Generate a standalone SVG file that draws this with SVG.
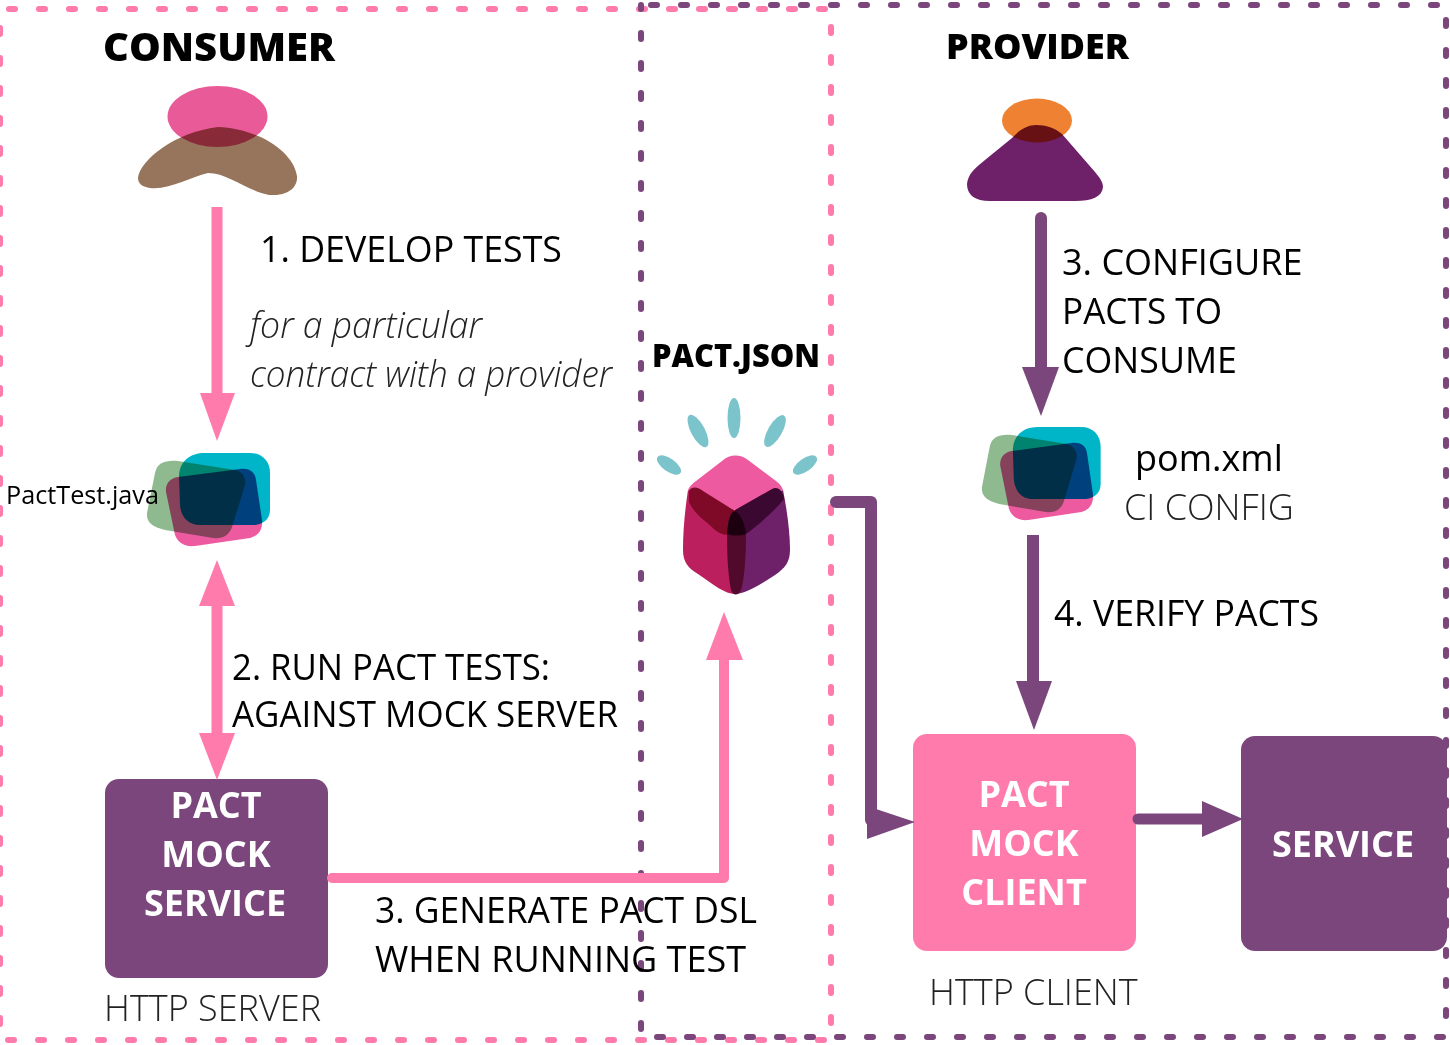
<svg xmlns="http://www.w3.org/2000/svg" width="1450" height="1045" viewBox="0 0 1450 1045">
<style>
text{font-family:"Open Sans","Liberation Sans",sans-serif;fill:#000}
.t{font-size:36px}
.l{font-size:36px;font-weight:300;fill:#222}
.b{font-weight:800;font-size:36px;fill:#000}
.w{font-weight:700;font-size:36px;fill:#fff;text-anchor:middle}
.pk{stroke:#ff7bac;fill:none;stroke-width:10;stroke-linejoin:round;stroke-linecap:round}
.pu{stroke:#7a467c;fill:none;stroke-width:12;stroke-linejoin:round;stroke-linecap:round}
.dash{fill:none;stroke-width:6;stroke-linecap:round;stroke-dasharray:6 24}
.m{mix-blend-mode:multiply}
</style>
<defs>
<g id="stack">
<path class="m" d="M166 492C165 484 170 478 178 477L240 469C250 468 255 472 256 480L262 520C263 530 258 536 250 538L195 546C185 547 178 543 175 535Z" fill="#ee5aa0"/>
<path class="m" d="M155 473C157 463 165 460 178 461L235 470C243 472 246 478 245 485L232 527C229 536 222 539 213 538L165 530C152 527 146 522 147 513Z" fill="#8fba8f"/>
<path class="m" d="M179 475C180 461 190 453 205 453H250C262 453 270 461 270 473V510C270 520 262 524 255 525H200C188 525 181 517 180 505Z" fill="#00b5c8"/>
</g>
</defs>
<rect width="1450" height="1045" fill="#fff"/>
<g id="boundaries">
<rect id="consumer-boundary" x="0" y="9" width="831" height="1031" class="dash" stroke="#ff7bac" stroke-dashoffset="-9"/>
<rect id="provider-boundary" x="641" y="5" width="805" height="1032" class="dash" stroke="#7a467c" stroke-dashoffset="-10"/>
</g>
<g id="consumer-title"><text x="103" y="61" class="b" style="font-size:39px" textLength="232" lengthAdjust="spacingAndGlyphs">CONSUMER</text></g>
<g id="provider-title"><text x="946" y="59" class="b" textLength="183" lengthAdjust="spacingAndGlyphs">PROVIDER</text></g>
<g id="consumer-icon">
<path d="M138 178C140 160 175 132 218 127C255 128 293 150 297 176C298 190 284 196 269 195C245 190 228 173 208 173C190 177 170 190 150 188C143 187 138 184 138 178Z" fill="#96755c"/>
<ellipse class="m" cx="217.500" cy="116.500" rx="50" ry="30.500" fill="#e85a98"/>
</g>
<g id="step1-label">
<text x="260" y="262" class="t" textLength="302" lengthAdjust="spacingAndGlyphs">1. DEVELOP TESTS</text>
<text x="250" y="338" class="l" font-style="italic" textLength="232" lengthAdjust="spacingAndGlyphs">for a particular</text>
<text x="250" y="387" class="l" font-style="italic" textLength="362" lengthAdjust="spacingAndGlyphs">contract with a provider</text>
</g>
<g id="pacttest">
<use href="#stack"/>
<text x="6" y="504" style="font-size:25px" textLength="153" lengthAdjust="spacingAndGlyphs">PactTest.java</text>
</g>
<g id="step2-label">
<text x="232" y="680" class="t" textLength="318" lengthAdjust="spacingAndGlyphs">2. RUN PACT TESTS:</text>
<text x="232" y="727" class="t" textLength="386" lengthAdjust="spacingAndGlyphs">AGAINST MOCK SERVER</text>
</g>
<g id="pact-mock-service">
<rect x="105" y="779" width="223" height="199" rx="14" fill="#7a467c"/>
<text x="216" y="818" class="w">PACT</text>
<text x="216" y="867" class="w">MOCK</text>
<text x="215" y="916" class="w">SERVICE</text>
<text x="104" y="1021" class="l">HTTP SERVER</text>
</g>
<g id="step3-generate-label">
<text x="375" y="923" class="t" textLength="382" lengthAdjust="spacingAndGlyphs">3. GENERATE PACT DSL</text>
<text x="375" y="972" class="t">WHEN RUNNING TEST</text>
</g>
<g id="pact-json">
<text x="652" y="367" class="b" style="font-size:31px" textLength="168" lengthAdjust="spacingAndGlyphs">PACT.JSON</text>
<g fill="#7cc4cc">
<ellipse cx="734" cy="418" rx="6.500" ry="20"/>
<ellipse cx="698" cy="431" rx="7" ry="18" transform="rotate(-28 698 431)"/>
<ellipse cx="775" cy="431" rx="7" ry="18" transform="rotate(30 775 431)"/>
<ellipse cx="669" cy="465" rx="6.500" ry="14" transform="rotate(-55 669 465)"/>
<ellipse cx="805" cy="465" rx="6.500" ry="14" transform="rotate(55 805 465)"/>
</g>
<path d="M688 490L735 510V594C725 594 714 585 698 574C688 568 683 562 683 550C683 530 685 510 688 490Z" fill="#bc1f5e"/>
<path d="M735 510L783 490C787 510 790 532 790 550C790 562 785 568 775 575C760 585 745 594 735 594Z" fill="#6e2068"/>
<path d="M688 490C689 487 692 484 696 481L722 461C730 454 740 454 748 460L776 481C780 484 782 487 783 490L735 510Z" fill="#ee5a9f"/>
<path d="M689 491C692 486 698 487 703 491L735 511V535C725 535 722 535 715 530C705 520 695 515 689 502Z" fill="#7e0a28"/>
<path d="M735 510L772 489C778 486 783 491 784 499C775 510 762 522 746 534C742 536 738 535 735 535Z" fill="#3a0830"/>
<path d="M727 535C728 520 730 512 735 511C742 515 745 525 746 534C746 560 744 580 741 590C738 596 733 596 731 590C728 575 727 555 727 535Z" fill="#520a2c"/>
<path d="M727 534C728 520 731 511 735 511C742 515 745 525 746 534C740 536 733 536 727 534Z" fill="#1c0010"/>
</g>
<g id="provider-icon">
<path d="M967 184C968 174 975 168 985 160L1012 138C1020 129 1028 125 1036 125C1046 125 1055 128 1062 134L1095 172C1100 178 1103 182 1103 187C1102 197 1092 201 1075 201H990C975 201 967 195 967 184Z" fill="#6e2068"/>
<ellipse class="m" cx="1037" cy="120.500" rx="35" ry="22" fill="#ee8232"/>
</g>
<g id="step3-configure-label">
<text x="1062" y="275" class="t">3. CONFIGURE</text>
<text x="1062" y="324" class="t" textLength="160" lengthAdjust="spacingAndGlyphs">PACTS TO</text>
<text x="1062" y="373" class="t" textLength="175" lengthAdjust="spacingAndGlyphs">CONSUME</text>
</g>
<g id="pom">
<use href="#stack" transform="translate(840.100 -26) scale(.965 1)"/>
<text x="1135" y="471" class="t">pom.xml</text>
<text x="1124" y="520" class="l">CI CONFIG</text>
</g>
<g id="step4-label"><text x="1054" y="626" class="t" textLength="265" lengthAdjust="spacingAndGlyphs">4. VERIFY PACTS</text></g>
<g id="pact-mock-client">
<rect x="913" y="734" width="223" height="217" rx="14" fill="#ff7bac"/>
<text x="1024" y="807" class="w">PACT</text>
<text x="1024" y="856" class="w">MOCK</text>
<text x="1024" y="905" class="w">CLIENT</text>
<text x="929" y="1005" class="l">HTTP CLIENT</text>
</g>
<g id="service">
<rect x="1241" y="736" width="206" height="215" rx="14" fill="#7a467c"/>
<text x="1343" y="857" class="w">SERVICE</text>
</g>
<g id="connectors">
<path class="pk" d="M217 207V400" style="stroke-linecap:butt;stroke-width:11"/>
<polygon points="200,393 235,393 217,441" fill="#ff7bac"/>
<path class="pk" style="stroke-linecap:butt;stroke-width:11" d="M217 600V740"/>
<polygon points="199,606 235,606 217,560" fill="#ff7bac"/>
<polygon points="199,733 235,733 217,780" fill="#ff7bac"/>
<path class="pk" d="M332 878H724V650"/>
<polygon points="706,660 743,660 724,612" fill="#ff7bac"/>
<path class="pu" d="M1041 218V375"/>
<polygon points="1022,367 1059,367 1041,416" fill="#7a467c"/>
<path class="pu" style="stroke-linecap:butt" d="M1033 535V690"/>
<polygon points="1016,681 1052,681 1034,730" fill="#7a467c"/>
<path class="pu" d="M836 502H871V820"/>
<polygon points="867,806 915,822 867,839" fill="#7a467c"/>
<path class="pu" style="stroke-width:11" d="M1138 819H1210"/>
<polygon points="1202,801 1243,819 1202,837" fill="#7a467c"/>
</g>
</svg>
